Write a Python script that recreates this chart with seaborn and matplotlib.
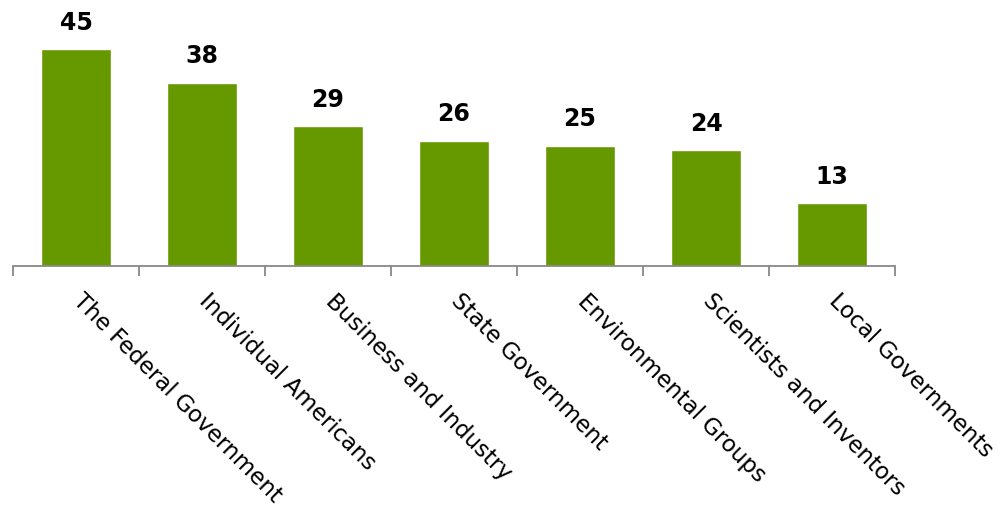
import pandas as pd
import matplotlib.pyplot as plt
import matplotlib.transforms as mtransforms
import seaborn as sns
from matplotlib.ticker import FixedLocator

categories = ['The Federal Government', 'Individual Americans', 'Business and Industry',
              'State Government', 'Environmental Groups', 'Scientists and Inventors',
              'Local Governments']
values = [45, 38, 29, 26, 25, 24, 13]

df = pd.DataFrame({'who': categories, 'pct': values})

sns.set_style('white')
plt.rcParams['font.family'] = ['DejaVu Sans']
plt.rcParams['text.color'] = 'black'
plt.rcParams['xtick.color'] = 'black'

fig = plt.figure(figsize=(10.05, 5.08), dpi=100)
ax = fig.add_axes([13 / 1005, (508 - 266) / 508, 882 / 1005, 241 / 508])

sns.barplot(x='who', y='pct', data=df, color='#669900', saturation=1, width=0.556, ax=ax)

ax.set_xlim(-0.5, len(categories) - 0.5)
ax.set_ylim(0, 50)

# value labels on top of bars
for i, v in enumerate(values):
    ax.text(i, v + 3.0, str(v), ha='center', va='bottom', fontsize=17,
            fontweight='bold', color='black')

# axis styling: only bottom line with tick marks between categories
for s in ['top', 'right', 'left']:
    ax.spines[s].set_visible(False)
ax.spines['bottom'].set_color('#888888')
ax.spines['bottom'].set_linewidth(1.3)
ax.set_yticks([])
ax.set_xlabel('')
ax.set_ylabel('')

ax.xaxis.set_minor_locator(FixedLocator([i - 0.5 for i in range(len(categories) + 1)]))
ax.tick_params(axis='x', which='major', length=0, pad=17, labelcolor='black')
ax.tick_params(axis='x', which='minor', bottom=True, length=7, width=1.3,
               color='#888888', direction='out')

offset = mtransforms.ScaledTranslation(0.09, 0, fig.dpi_scale_trans)
for lab in ax.get_xticklabels():
    lab.set_rotation(-45)
    lab.set_ha('left')
    lab.set_va('top')
    lab.set_rotation_mode('anchor')
    lab.set_fontsize(16.5)
    lab.set_transform(lab.get_transform() + offset)

fig.savefig('out.png', dpi=100)
